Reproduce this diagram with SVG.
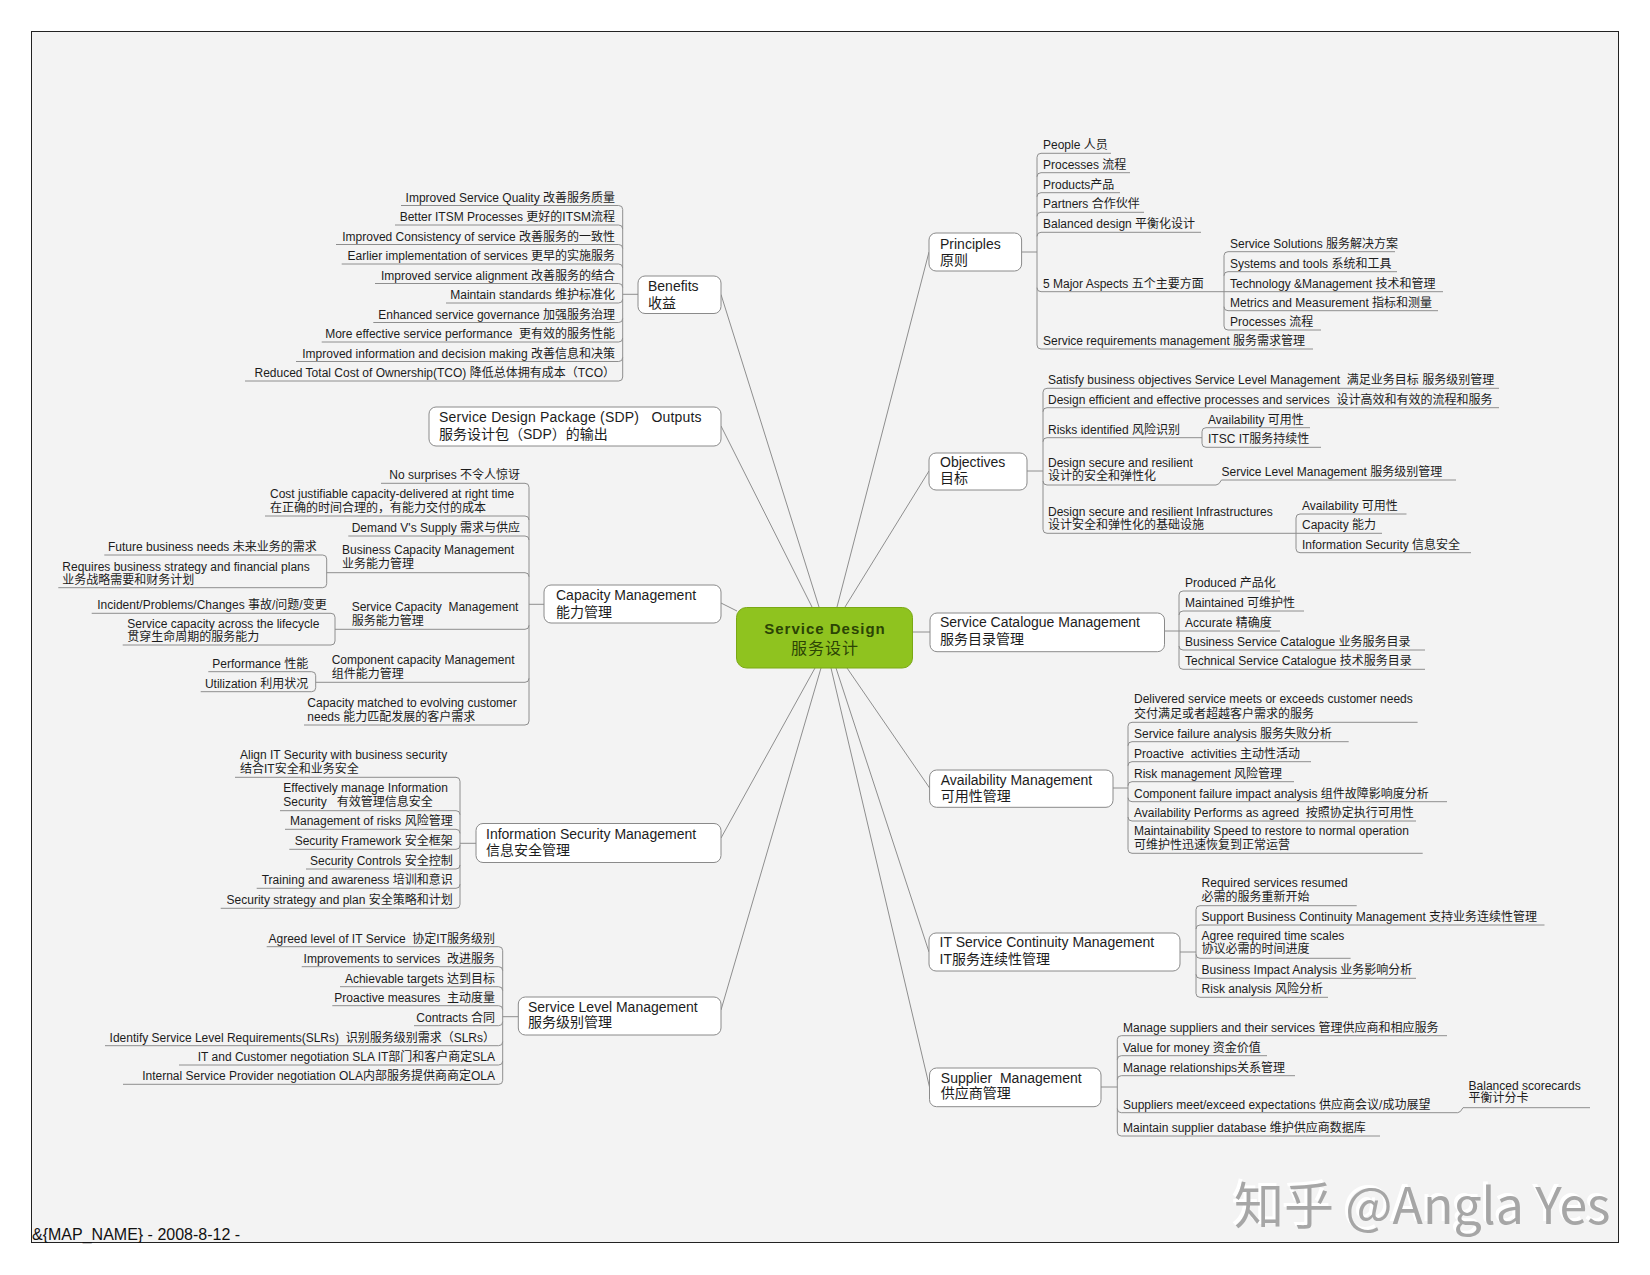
<svg xmlns="http://www.w3.org/2000/svg" width="1650" height="1275" viewBox="0 0 1650 1275">
<defs>
<style>
.t{font-family:"Liberation Sans","Noto Sans CJK SC",sans-serif;font-size:12px;fill:#1c1c1c;white-space:pre}
.m{font-size:14px}
.e{text-anchor:end}
.box{fill:#ffffff;stroke:#8a8a8a;stroke-width:1}
.ln{fill:none;stroke:#8e8e8e;stroke-width:1}
.ul{fill:none;stroke:#8e8e8e;stroke-width:1}
</style>
</defs>
<rect x="0" y="0" width="1650" height="1275" fill="#ffffff"/>
<rect x="31.5" y="31.5" width="1587" height="1211" fill="#f3f3f3" stroke="#222" stroke-width="1"/>

<g id="connectors">
<path class="ln" d="M721,294.5 L819,607"/>
<path class="ln" d="M721,426 L812,607"/>
<path class="ln" d="M721,603 L737,611"/>
<path class="ln" d="M721,838 L815,668"/>
<path class="ln" d="M721,1010 L821,668"/>
<path class="ln" d="M929,252 L837,607"/>
<path class="ln" d="M929,471 L845,607"/>
<path class="ln" d="M913,632 L930,632"/>
<path class="ln" d="M929.6,788 L847,668"/>
<path class="ln" d="M929,952 L836,668"/>
<path class="ln" d="M929.5,1087 L831,668"/>
<path class="ln" d="M622.7,209.5 V377 M622.7,294.3 H638"/>
<path class="ln" d="M529,487.3 V721 M529,604.3 H544"/>
<path class="ln" d="M326.7,559 V583.7"/>
<path class="ln" d="M335,617.3 V641"/>
<path class="ln" d="M315.7,675.7 V687.7"/>
<path class="ln" d="M460,781.3 V904.3 M460,843.3 H476"/>
<path class="ln" d="M502.7,950.7 V1080.3 M502.7,1016.7 H518.3"/>
<path class="ln" d="M1037,157.3 V345 M1021.6,252 H1037"/>
<path class="ln" d="M1224,255.7 V326"/>
<path class="ln" d="M1043,392.3 V529.3 M1027,471 H1043"/>
<path class="ln" d="M1202,431.7 V443.3"/>
<path class="ln" d="M1216,485 Q1219,485 1221.5,480"/>
<path class="ln" d="M1296,518 V548.7"/>
<path class="ln" d="M1179,595 V665.3 M1164.5,631 H1179"/>
<path class="ln" d="M1128,726.3 V849.3 M1113,788 H1128"/>
<path class="ln" d="M1196,909.7 V993.3 M1180,952 H1196"/>
<path class="ln" d="M1117.3,1039.7 V1132 M1101,1087 H1117.3"/>
<path class="ln" d="M1457.7,1112.7 Q1460.5,1112.7 1463,1107.7"/>
</g>

<g id="center">
<rect x="736.5" y="607.5" width="176" height="60.5" rx="10" fill="#8fc31f" stroke="#7aa814" stroke-width="1"/>
<text class="t" x="825" y="634" text-anchor="middle" style="font-size:15px;font-weight:bold;letter-spacing:1px;fill:#2b4405">Service Design</text>
<text class="t" x="825" y="654" text-anchor="middle" style="font-size:16px;letter-spacing:1px;fill:#2b4405">服务设计</text>
</g>

<g id="benefits">
<rect class="box" x="638" y="276" width="83" height="37.5" rx="7"/>
<text class="t m" x="648" y="291">Benefits</text>
<text class="t m" x="648" y="307.5">收益</text>
</g>
<g id="benefits-children">
<text class="t e" x="615" y="201.5">Improved Service Quality 改善服务质量</text><path class="ul" d="M401,205.5 H618.7 Q622.7,205.5 622.7,209.5"/>
<text class="t e" x="615" y="221">Better ITSM Processes 更好的ITSM流程</text><path class="ul" d="M395,225 H618.7 Q622.7,225 622.7,229"/>
<text class="t e" x="615" y="240.5">Improved Consistency of service 改善服务的一致性</text><path class="ul" d="M336,244.5 H618.7 Q622.7,244.5 622.7,248.5"/>
<text class="t e" x="615" y="260">Earlier implementation of services 更早的实施服务</text><path class="ul" d="M341.7,264 H618.7 Q622.7,264 622.7,268"/>
<text class="t e" x="615" y="279.5">Improved service alignment 改善服务的结合</text><path class="ul" d="M375,283.5 H618.7 Q622.7,283.5 622.7,287.5"/>
<text class="t e" x="615" y="299">Maintain standards 维护标准化</text><path class="ul" d="M446,303 H618.7 Q622.7,303 622.7,299"/>
<text class="t e" x="615" y="318.5">Enhanced service governance 加强服务治理</text><path class="ul" d="M373.3,322.5 H618.7 Q622.7,322.5 622.7,318.5"/>
<text class="t e" x="615" y="338">More effective service performance  更有效的服务性能</text><path class="ul" d="M321.7,342 H618.7 Q622.7,342 622.7,338"/>
<text class="t e" x="615" y="357.5">Improved information and decision making 改善信息和决策</text><path class="ul" d="M296,361.5 H618.7 Q622.7,361.5 622.7,357.5"/>
<text class="t e" x="615" y="377">Reduced Total Cost of Ownership(TCO) 降低总体拥有成本（TCO）</text><path class="ul" d="M245,381 H618.7 Q622.7,381 622.7,377"/>
</g>

<g id="sdp">
<rect class="box" x="429" y="407" width="292" height="39" rx="7"/>
<text class="t m" x="439" y="422" style="letter-spacing:0.2px">Service Design Package (SDP)   Outputs</text>
<text class="t m" x="439" y="439">服务设计包（SDP）的输出</text>
</g>

<g id="capacity">
<rect class="box" x="544" y="585" width="177" height="38" rx="7"/>
<text class="t m" x="556" y="600">Capacity Management</text>
<text class="t m" x="556" y="617">能力管理</text>
</g>
<g id="capacity-children">
<text class="t e" x="520" y="479.3">No surprises 不令人惊讶</text><path class="ul" d="M381,483.3 H525 Q529,483.3 529,487.3"/>
<text class="t" x="270" y="498.3">Cost justifiable capacity-delivered at right time</text>
<text class="t" x="270" y="511.5">在正确的时间合理的，有能力交付的成本</text><path class="ul" d="M265,516 H525 Q529,516 529,520"/>
<text class="t e" x="520" y="532">Demand V's Supply 需求与供应</text><path class="ul" d="M348.3,536 H525 Q529,536 529,540"/>
<text class="t" x="342" y="554">Business Capacity Management</text>
<text class="t" x="342" y="567.8">业务能力管理</text><path class="ul" d="M326.7,572.7 H525 Q529,572.7 529,576.7"/>
<text class="t e" x="316.7" y="551">Future business needs 未来业务的需求</text><path class="ul" d="M104.3,555 H322.7 Q326.7,555 326.7,559"/>
<text class="t" x="62.3" y="570.7">Requires business strategy and financial plans</text>
<text class="t" x="62.3" y="583.8">业务战略需要和财务计划</text><path class="ul" d="M58.3,587.7 H322.7 Q326.7,587.7 326.7,583.7"/>
<text class="t" x="351.7" y="611">Service Capacity  Management</text>
<text class="t" x="351.7" y="624.5">服务能力管理</text><path class="ul" d="M335,629.3 H525 Q529,629.3 529,625.3"/>
<text class="t e" x="326.7" y="609.3">Incident/Problems/Changes 事故/问题/变更</text><path class="ul" d="M91.7,613.3 H331 Q335,613.3 335,617.3"/>
<text class="t" x="127.3" y="628.3">Service capacity across the lifecycle</text>
<text class="t" x="127.3" y="640.5">贯穿生命周期的服务能力</text><path class="ul" d="M122.7,645 H331 Q335,645 335,641"/>
<text class="t" x="331.7" y="664.3">Component capacity Management</text>
<text class="t" x="331.7" y="678">组件能力管理</text><path class="ul" d="M315.7,682.3 H525 Q529,682.3 529,678.3"/>
<text class="t e" x="308.3" y="667.7">Performance 性能</text><path class="ul" d="M208.3,671.7 H311.7 Q315.7,671.7 315.7,675.7"/>
<text class="t e" x="308.3" y="687.7">Utilization 利用状况</text><path class="ul" d="M200.7,691.7 H311.7 Q315.7,691.7 315.7,687.7"/>
<text class="t" x="307.3" y="707.3">Capacity matched to evolving customer</text>
<text class="t" x="307.3" y="720.5">needs 能力匹配发展的客户需求</text><path class="ul" d="M304,725 H525 Q529,725 529,721"/>
</g>

<g id="infosec">
<rect class="box" x="476" y="823.5" width="245" height="39" rx="7"/>
<text class="t m" x="486" y="839">Information Security Management</text>
<text class="t m" x="486" y="855">信息安全管理</text>
</g>
<g id="infosec-children">
<text class="t" x="240" y="759">Align IT Security with business security</text>
<text class="t" x="240" y="772.5">结合IT安全和业务安全</text><path class="ul" d="M235,777.3 H456 Q460,777.3 460,781.3"/>
<text class="t" x="283.3" y="792.3">Effectively manage Information</text>
<text class="t" x="283.3" y="805.5">Security   有效管理信息安全</text><path class="ul" d="M280,810.7 H456 Q460,810.7 460,814.7"/>
<text class="t e" x="452.7" y="825.3">Management of risks 风险管理</text><path class="ul" d="M285,829.3 H456 Q460,829.3 460,833.3"/>
<text class="t e" x="452.7" y="845.3">Security Framework 安全框架</text><path class="ul" d="M289.3,849.3 H456 Q460,849.3 460,845.3"/>
<text class="t e" x="452.7" y="865">Security Controls 安全控制</text><path class="ul" d="M306,869 H456 Q460,869 460,865"/>
<text class="t e" x="452.7" y="884.3">Training and awareness 培训和意识</text><path class="ul" d="M256.7,888.3 H456 Q460,888.3 460,884.3"/>
<text class="t e" x="452.7" y="904.3">Security strategy and plan 安全策略和计划</text><path class="ul" d="M220.7,908.3 H456 Q460,908.3 460,904.3"/>
</g>

<g id="slm">
<rect class="box" x="518.3" y="997" width="202.7" height="38" rx="7"/>
<text class="t m" x="528" y="1011.7">Service Level Management</text>
<text class="t m" x="528" y="1027.3">服务级别管理</text>
</g>
<g id="slm-children">
<text class="t e" x="495" y="942.7">Agreed level of IT Service  协定IT服务级别</text><path class="ul" d="M266.7,946.7 H498.7 Q502.7,946.7 502.7,950.7"/>
<text class="t e" x="495" y="962.7">Improvements to services  改进服务</text><path class="ul" d="M301.7,966.7 H498.7 Q502.7,966.7 502.7,970.7"/>
<text class="t e" x="495" y="982.7">Achievable targets 达到目标</text><path class="ul" d="M340,986.7 H498.7 Q502.7,986.7 502.7,990.7"/>
<text class="t e" x="495" y="1001.7">Proactive measures  主动度量</text><path class="ul" d="M332.3,1005.7 H498.7 Q502.7,1005.7 502.7,1009.7"/>
<text class="t e" x="495" y="1021.7">Contracts 合同</text><path class="ul" d="M414,1025.7 H498.7 Q502.7,1025.7 502.7,1021.7"/>
<text class="t e" x="495" y="1041.7">Identify Service Level Requirements(SLRs)  识别服务级别需求（SLRs）</text><path class="ul" d="M105,1045.7 H498.7 Q502.7,1045.7 502.7,1041.7"/>
<text class="t e" x="495" y="1061">IT and Customer negotiation SLA IT部门和客户商定SLA</text><path class="ul" d="M179,1065 H498.7 Q502.7,1065 502.7,1061"/>
<text class="t e" x="495" y="1080.3">Internal Service Provider negotiation OLA内部服务提供商商定OLA</text><path class="ul" d="M123,1084.3 H498.7 Q502.7,1084.3 502.7,1080.3"/>
</g>

<g id="principles">
<rect class="box" x="929" y="233" width="92.6" height="38" rx="7"/>
<text class="t m" x="940" y="248.5">Principles</text>
<text class="t m" x="940" y="265">原则</text>
</g>
<g id="principles-children">
<text class="t" x="1043" y="149.3">People 人员</text><path class="ul" d="M1037,157.3 Q1037,153.3 1041,153.3 H1111"/>
<text class="t" x="1043" y="168.7">Processes 流程</text><path class="ul" d="M1037,176.7 Q1037,172.7 1041,172.7 H1130"/>
<text class="t" x="1043" y="188.7">Products产品</text><path class="ul" d="M1037,196.7 Q1037,192.7 1041,192.7 H1120"/>
<text class="t" x="1043" y="208.3">Partners 合作伙伴</text><path class="ul" d="M1037,216.3 Q1037,212.3 1041,212.3 H1144"/>
<text class="t" x="1043" y="228.3">Balanced design 平衡化设计</text><path class="ul" d="M1037,236.3 Q1037,232.3 1041,232.3 H1201"/>
<text class="t" x="1043" y="287.7">5 Major Aspects 五个主要方面</text><path class="ul" d="M1037,287.7 Q1037,291.7 1041,291.7 H1224"/>
<text class="t" x="1230" y="247.7">Service Solutions 服务解决方案</text><path class="ul" d="M1224,255.7 Q1224,251.7 1228,251.7 H1395"/>
<text class="t" x="1230" y="267.7">Systems and tools 系统和工具</text><path class="ul" d="M1224,275.7 Q1224,271.7 1228,271.7 H1397"/>
<text class="t" x="1230" y="287.7">Technology &amp;Management 技术和管理</text><path class="ul" d="M1224,291.7 H1443"/>
<text class="t" x="1230" y="306.7">Metrics and Measurement 指标和测量</text><path class="ul" d="M1224,306.7 Q1224,310.7 1228,310.7 H1438"/>
<text class="t" x="1230" y="326">Processes 流程</text><path class="ul" d="M1224,326 Q1224,330 1228,330 H1321"/>
<text class="t" x="1043" y="345">Service requirements management 服务需求管理</text><path class="ul" d="M1037,345 Q1037,349 1041,349 H1313"/>
</g>

<g id="objectives">
<rect class="box" x="929" y="453" width="98" height="37" rx="7"/>
<text class="t m" x="940" y="467.3">Objectives</text>
<text class="t m" x="940" y="483">目标</text>
</g>
<g id="objectives-children">
<text class="t" x="1048" y="384.3">Satisfy business objectives Service Level Management  满足业务目标 服务级别管理</text><path class="ul" d="M1043,392.3 Q1043,388.3 1047,388.3 H1499"/>
<text class="t" x="1048" y="403.7">Design efficient and effective processes and services  设计高效和有效的流程和服务</text><path class="ul" d="M1043,411.7 Q1043,407.7 1047,407.7 H1499"/>
<text class="t" x="1048" y="433.7">Risks identified 风险识别</text><path class="ul" d="M1043,441.7 Q1043,437.7 1047,437.7 H1202"/>
<text class="t" x="1208" y="423.7">Availability 可用性</text><path class="ul" d="M1202,431.7 Q1202,427.7 1206,427.7 H1310"/>
<text class="t" x="1208" y="443.3">ITSC IT服务持续性</text><path class="ul" d="M1202,443.3 Q1202,447.3 1206,447.3 H1321"/>
<text class="t" x="1048" y="467">Design secure and resilient</text>
<text class="t" x="1048" y="480.3">设计的安全和弹性化</text><path class="ul" d="M1043,481 Q1043,485 1047,485 H1216"/>
<text class="t" x="1221.5" y="476">Service Level Management 服务级别管理</text><path class="ul" d="M1221.5,480 H1456"/>
<text class="t" x="1048" y="516">Design secure and resilient Infrastructures</text>
<text class="t" x="1048" y="528.8">设计安全和弹性化的基础设施</text><path class="ul" d="M1043,529.3 Q1043,533.3 1047,533.3 H1296"/>
<text class="t" x="1302" y="510">Availability 可用性</text><path class="ul" d="M1296,518 Q1296,514 1300,514 H1406.5"/>
<text class="t" x="1302" y="529.3">Capacity 能力</text><path class="ul" d="M1296,533.3 H1382"/>
<text class="t" x="1302" y="548.7">Information Security 信息安全</text><path class="ul" d="M1296,548.7 Q1296,552.7 1300,552.7 H1471"/>
</g>

<g id="catalogue">
<rect class="box" x="930" y="613" width="234.5" height="38.7" rx="7"/>
<text class="t m" x="940" y="627.3">Service Catalogue Management</text>
<text class="t m" x="940" y="644">服务目录管理</text>
</g>
<g id="catalogue-children">
<text class="t" x="1185" y="587">Produced 产品化</text><path class="ul" d="M1179,595 Q1179,591 1183,591 H1280"/>
<text class="t" x="1185" y="607">Maintained 可维护性</text><path class="ul" d="M1179,615 Q1179,611 1183,611 H1304"/>
<text class="t" x="1185" y="627">Accurate 精确度</text><path class="ul" d="M1179,631 H1280"/>
<text class="t" x="1185" y="646">Business Service Catalogue 业务服务目录</text><path class="ul" d="M1179,646 Q1179,650 1183,650 H1425"/>
<text class="t" x="1185" y="665.3">Technical Service Catalogue 技术服务目录</text><path class="ul" d="M1179,665.3 Q1179,669.3 1183,669.3 H1425"/>
</g>

<g id="availability">
<rect class="box" x="929.6" y="770" width="183.4" height="37.3" rx="7"/>
<text class="t m" x="940.7" y="785">Availability Management</text>
<text class="t m" x="940.7" y="801">可用性管理</text>
</g>
<g id="availability-children">
<text class="t" x="1134" y="703.3">Delivered service meets or exceeds customer needs</text>
<text class="t" x="1134" y="718.3">交付满足或者超越客户需求的服务</text><path class="ul" d="M1128,726.3 Q1128,722.3 1132,722.3 H1417.6"/>
<text class="t" x="1134" y="737.7">Service failure analysis 服务失败分析</text><path class="ul" d="M1128,745.7 Q1128,741.7 1132,741.7 H1348.7"/>
<text class="t" x="1134" y="757.7">Proactive  activities 主动性活动</text><path class="ul" d="M1128,765.7 Q1128,761.7 1132,761.7 H1311"/>
<text class="t" x="1134" y="777.7">Risk management 风险管理</text><path class="ul" d="M1128,785.7 Q1128,781.7 1132,781.7 H1294"/>
<text class="t" x="1134" y="797.7">Component failure impact analysis 组件故障影响度分析</text><path class="ul" d="M1128,797.7 Q1128,801.7 1132,801.7 H1447"/>
<text class="t" x="1134" y="817">Availability Performs as agreed  按照协定执行可用性</text><path class="ul" d="M1128,817 Q1128,821 1132,821 H1416"/>
<text class="t" x="1134" y="834.5">Maintainability Speed to restore to normal operation</text>
<text class="t" x="1134" y="849.3">可维护性迅速恢复到正常运营</text><path class="ul" d="M1128,849.3 Q1128,853.3 1132,853.3 H1422.7"/>
</g>

<g id="itscm">
<rect class="box" x="929" y="933" width="251" height="38" rx="7"/>
<text class="t m" x="939.6" y="947.3">IT Service Continuity Management</text>
<text class="t m" x="939.6" y="964">IT服务连续性管理</text>
</g>
<g id="itscm-children">
<text class="t" x="1201.6" y="887">Required services resumed</text>
<text class="t" x="1201.6" y="901.3">必需的服务重新开始</text><path class="ul" d="M1196,909.7 Q1196,905.7 1200,905.7 H1356.7"/>
<text class="t" x="1201.6" y="921">Support Business Continuity Management 支持业务连续性管理</text><path class="ul" d="M1196,929 Q1196,925 1200,925 H1544.5"/>
<text class="t" x="1201.6" y="939.5">Agree required time scales</text>
<text class="t" x="1201.6" y="953">协议必需的时间进度</text><path class="ul" d="M1196,954.3 Q1196,958.3 1200,958.3 H1350.6"/>
<text class="t" x="1201.6" y="974.3">Business Impact Analysis 业务影响分析</text><path class="ul" d="M1196,974.3 Q1196,978.3 1200,978.3 H1416"/>
<text class="t" x="1201.6" y="993.3">Risk analysis 风险分析</text><path class="ul" d="M1196,993.3 Q1196,997.3 1200,997.3 H1328"/>
</g>

<g id="supplier">
<rect class="box" x="929.5" y="1068" width="171.5" height="38.7" rx="7"/>
<text class="t m" x="940.8" y="1082.7">Supplier  Management</text>
<text class="t m" x="940.8" y="1098.3">供应商管理</text>
</g>
<g id="supplier-children">
<text class="t" x="1123" y="1031.7">Manage suppliers and their services 管理供应商和相应服务</text><path class="ul" d="M1117.3,1039.7 Q1117.3,1035.7 1121.3,1035.7 H1447"/>
<text class="t" x="1123" y="1051.7">Value for money 资金价值</text><path class="ul" d="M1117.3,1059.7 Q1117.3,1055.7 1121.3,1055.7 H1267"/>
<text class="t" x="1123" y="1071.7">Manage relationships关系管理</text><path class="ul" d="M1117.3,1079.7 Q1117.3,1075.7 1121.3,1075.7 H1295"/>
<text class="t" x="1123" y="1108.7">Suppliers meet/exceed expectations 供应商会议/成功展望</text><path class="ul" d="M1117.3,1108.7 Q1117.3,1112.7 1121.3,1112.7 H1457.7"/>
<text class="t" x="1468.6" y="1090">Balanced scorecards</text>
<text class="t" x="1468.6" y="1102.3">平衡计分卡</text><path class="ul" d="M1463,1107.7 H1590"/>
<text class="t" x="1123" y="1132">Maintain supplier database 维护供应商数据库</text><path class="ul" d="M1117.3,1132 Q1117.3,1136 1121.3,1136 H1380"/>
</g>

<g id="footer">
<text class="t" x="32" y="1240" style="font-size:16px;fill:#111">&amp;{MAP_NAME} - 2008-8-12 -</text>
</g>
<g id="watermark" style="font-family:'Noto Sans CJK SC','Noto Sans',sans-serif;font-size:50px">
<text x="1231" y="1221" fill="#ffffff">知乎 @Angla Yes</text>
<text x="1234" y="1224" fill="#a6a6a6">知乎 @Angla Yes</text>
</g>
</svg>
